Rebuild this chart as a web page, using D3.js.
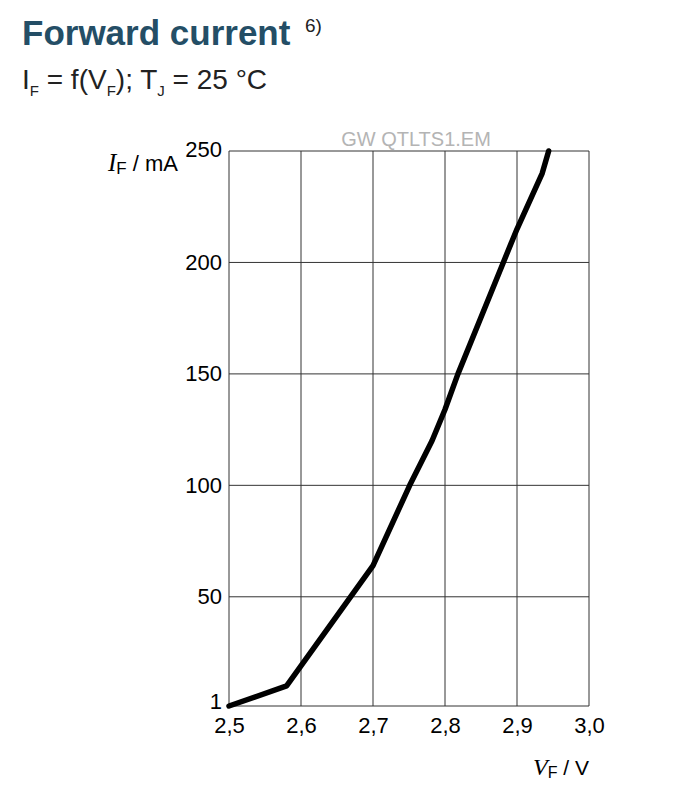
<!DOCTYPE html>
<html><head><meta charset="utf-8">
<script src="https://cdn.jsdelivr.net/npm/d3@7"></script>
<style>
body{margin:0;background:#fff;}
svg{display:block;font-family:"Liberation Sans",Arial,sans-serif;}
</style></head>
<body><svg id="c" width="674" height="804"></svg>
<script>
// data
const vfValues = [2.5, 2.58, 2.7, 2.751, 2.782, 2.8, 2.818, 2.881, 2.9, 2.935, 2.944];
const ifValues = [1, 10, 64, 100, 120, 134, 150, 200, 215, 240, 250];
const xTicks = [2.5, 2.6, 2.7, 2.8, 2.9, 3.0];
const xTickLabels = ["2,5", "2,6", "2,7", "2,8", "2,9", "3,0"];
const yTicks = [1, 50, 100, 150, 200, 250];
const yTickLabels = ["1", "50", "100", "150", "200", "250"];

const svg = d3.select("#c");
const L = 229, R = 589, T = 151, B = 706;
const x = d3.scaleLinear().domain([2.5, 3.0]).range([L, R]);
const y = d3.scaleLinear().domain([1, 250]).range([B, T]);

// title
svg.append("text").attr("x", 22).attr("y", 45).attr("font-size", 35).attr("font-weight", "bold")
  .attr("fill", "#244e66").text("Forward current");
svg.append("text").attr("x", 305).attr("y", 32).attr("font-size", 19).attr("fill", "#222").text("6)");

// subtitle
const st = svg.append("text").attr("x", 22).attr("y", 89).attr("font-size", 28).attr("fill", "#222");
st.append("tspan").text("I");
st.append("tspan").attr("font-size", 15).attr("dy", 7).text("F");
st.append("tspan").attr("dy", -7).text(" = f(V");
st.append("tspan").attr("font-size", 15).attr("dy", 7).text("F");
st.append("tspan").attr("dy", -7).text("); T");
st.append("tspan").attr("font-size", 15).attr("dy", 7).text("J");
st.append("tspan").attr("dy", -7).text(" = 25 °C");

// watermark
svg.append("text").attr("x", 416).attr("y", 146).attr("text-anchor", "middle").attr("font-size", 20)
  .attr("fill", "#b4b4b4").text("GW QTLTS1.EM");

// grid
const g = svg.append("g");
g.selectAll(".vg").data(xTicks).join("line")
  .attr("x1", d => x(d)).attr("x2", d => x(d)).attr("y1", T).attr("y2", B)
  .attr("stroke", "#333").attr("stroke-width", 1);
g.selectAll(".hg").data(yTicks).join("line")
  .attr("x1", L).attr("x2", R).attr("y1", d => y(d)).attr("y2", d => y(d))
  .attr("stroke", "#333").attr("stroke-width", 1);

// axes via d3
const xAxis = d3.axisBottom(x).tickValues(xTicks).tickSize(0).tickPadding(11)
  .tickFormat((d, i) => xTickLabels[i]);
const xa = svg.append("g").attr("transform", `translate(0,${B})`).call(xAxis);
xa.select(".domain").remove();
xa.selectAll("text").attr("font-size", 22).attr("fill", "#000").attr("font-family", "Liberation Sans, Arial, sans-serif");

const yAxis = d3.axisLeft(y).tickValues(yTicks).tickSize(0).tickPadding(7)
  .tickFormat((d, i) => yTickLabels[i]);
const ya = svg.append("g").attr("transform", `translate(${L},0)`).call(yAxis);
ya.select(".domain").remove();
ya.selectAll("text").attr("font-size", 22).attr("fill", "#000").attr("font-family", "Liberation Sans, Arial, sans-serif");
ya.selectAll("text").filter(d => d === 1).attr("dy", "0.12em");
ya.selectAll("text").filter(d => d === 250).attr("dy", "0.25em");

// axis titles
const yt = svg.append("text").attr("x", 178).attr("y", 171).attr("text-anchor", "end").attr("font-size", 22).attr("fill", "#000");
yt.append("tspan").attr("font-family", "Liberation Serif, serif").attr("font-style", "italic").attr("font-size", 25).text("I");
yt.append("tspan").attr("font-size", 17).attr("dy", 3).text("F");
yt.append("tspan").attr("dy", -3).text(" / mA");

const xt = svg.append("text").attr("x", 589).attr("y", 775).attr("text-anchor", "end").attr("font-size", 21).attr("fill", "#000");
xt.append("tspan").attr("font-family", "Liberation Serif, serif").attr("font-style", "italic").attr("font-size", 24).text("V");
xt.append("tspan").attr("font-size", 16).attr("dy", 3).text("F");
xt.append("tspan").attr("dy", -3).text(" / V");

// curve
const line = d3.line().x((d, i) => x(vfValues[i])).y(d => y(d));
svg.append("path").datum(ifValues).attr("d", line).attr("fill", "none")
  .attr("stroke", "#000").attr("stroke-width", 5.5).attr("stroke-linejoin", "round").attr("stroke-linecap", "round");
</script></body></html>
